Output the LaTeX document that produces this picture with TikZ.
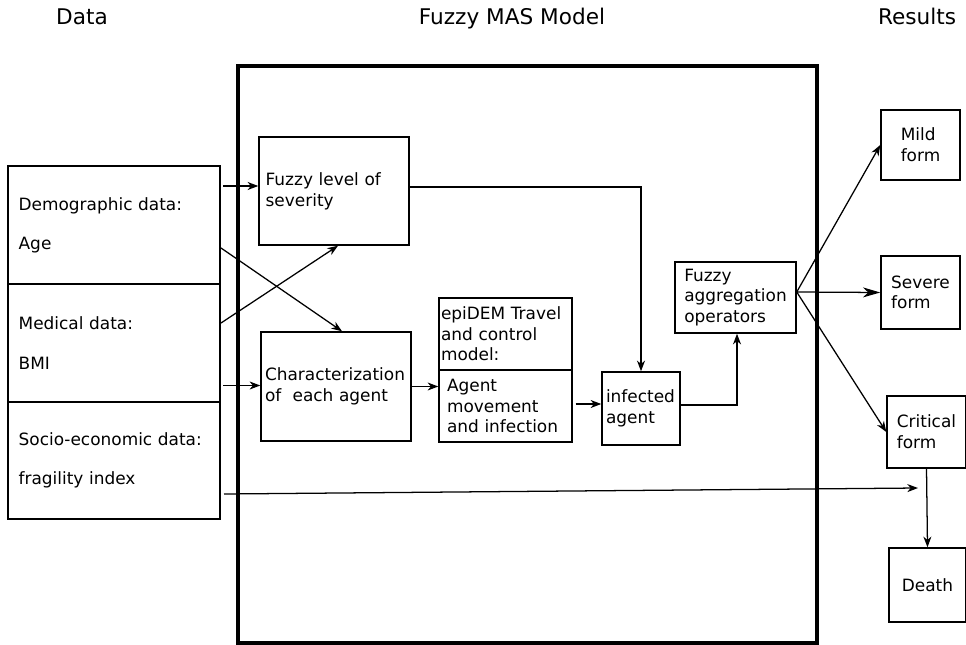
\documentclass[tikz,border=0pt]{standalone}
\usepackage{fontspec}
\setmainfont{DejaVu Sans}
\usetikzlibrary{arrows.meta,calc}
\tikzset{
  box/.style={draw, line width=1.1pt, align=left, inner ysep=0pt,
    font=\fontsize{12.7pt}{15.5pt}\selectfont},
  databox/.style={box, line width=1.5pt, inner xsep=8pt, text width=143pt},
  title/.style={font=\fontsize{16.2pt}{19pt}\selectfont, inner sep=0pt, anchor=base},
  arr/.style={-{Stealth[length=8pt,width=6pt,inset=2.5pt]}, line width=0.95pt},
  bigarr/.style={-{Stealth[length=13pt,width=7.5pt,inset=4pt]}, line width=0.95pt},
  frame/.style={line width=2.3pt}
}
\begin{document}
\begin{tikzpicture}[x=0.75pt, y=-0.75pt]
  \useasboundingbox (0,0) rectangle (966,645);
  % headings
  \node[title] (hdata) at (82,25) {Data};
  \node[title] (hmas) at (512,25) {Fuzzy MAS Model};
  \node[title] (hres) at (917,25) {Results};
  % model frame
  \draw[frame] (238,66) rectangle (817,643);
  % input data
  \node[databox, minimum height=88.5pt] (demo) at (114,225) {Demographic data:\\[14pt]Age};
  \node[databox, minimum height=88.5pt] (med) at (114,343) {Medical data:\\[14pt]BMI};
  \node[databox, minimum height=87.75pt] (socio) at (114,460.5) {Socio-economic data:\\[14pt]fragility index};
  % model
  \node[box, minimum height=81pt, inner xsep=5pt, text width=102.5pt] (sev) at (334,191) {Fuzzy level of\\severity};
  \node[box, minimum height=81.75pt, inner xsep=3pt, text width=106.5pt] (charac) at (336,386.5) {Characterization\\of\ \ each agent};
  \node[box, minimum height=54pt, inner xsep=1.5pt, text width=96.75pt] (epi) at (505.5,334) {epiDEM Travel\\and control\\model:};
  \node[box, minimum height=54pt, inner xsep=6pt, text width=87.75pt] (move) at (505.5,406) {Agent\\movement\\and infection};
  \node[box, minimum height=54.75pt, inner xsep=3pt, text width=52.5pt] (inf) at (641,408.5) {infected\\agent};
  \node[box, minimum height=53.25pt, minimum width=90.75pt] (agg) at (735.5,297.5) {Fuzzy\\aggregation\\operators};
  % results
  \node[box, minimum width=59.25pt, minimum height=52.5pt] (mild) at (920.5,145) {Mild\\form};
  \node[box, minimum width=59.25pt, minimum height=54.75pt] (severe) at (920.5,292.5) {Severe\\form};
  \node[box, minimum width=59.25pt, minimum height=54pt] (crit) at (926.5,432) {Critical\\form};
  \node[box, minimum width=57.75pt, minimum height=55.5pt] (death) at (927.5,585) {Death};
  \coordinate (critin) at (918,488);
  % connectors
  \draw[arr] ($(demo.east |- sev.west)+(2,-5)$) -- ($(sev.west)+(0,-5)$);
  \draw[arr] ($(demo.east)+(0,23)$) -- ($(charac.north)+(6,0)$);
  \draw[arr] ($(med.east)+(0,-20)$) -- ($(sev.south)+(4,0)$);
  \draw[arr] ($(med.east |- charac.west)+(2,-1)$) -- ($(charac.west)+(0,-1)$);
  \draw[arr] ($(socio.east)+(3,33.5)$) -- (critin);
  \draw[arr] ($(sev.east)+(0,-4)$) -| (inf.north);
  \draw[arr] (charac.east) -- (charac.east -| move.west);
  \draw[arr] ($(move.east)+(3,-2)$) -- ($(inf.west)+(0,-4.5)$);
  \draw[arr] ($(inf.east)+(0,-3.5)$) -| ($(agg.south)+(1.5,0)$);
  \coordinate (aggout) at ($(agg.east)+(0,-5.5)$);
  \draw[arr] (aggout) -- (mild.west);
  \draw[bigarr] (aggout) -- (severe.west);
  \draw[arr] (aggout) -- (crit.west);
  \draw[arr] (crit.south) -- (death.north);
\end{tikzpicture}
\end{document}
